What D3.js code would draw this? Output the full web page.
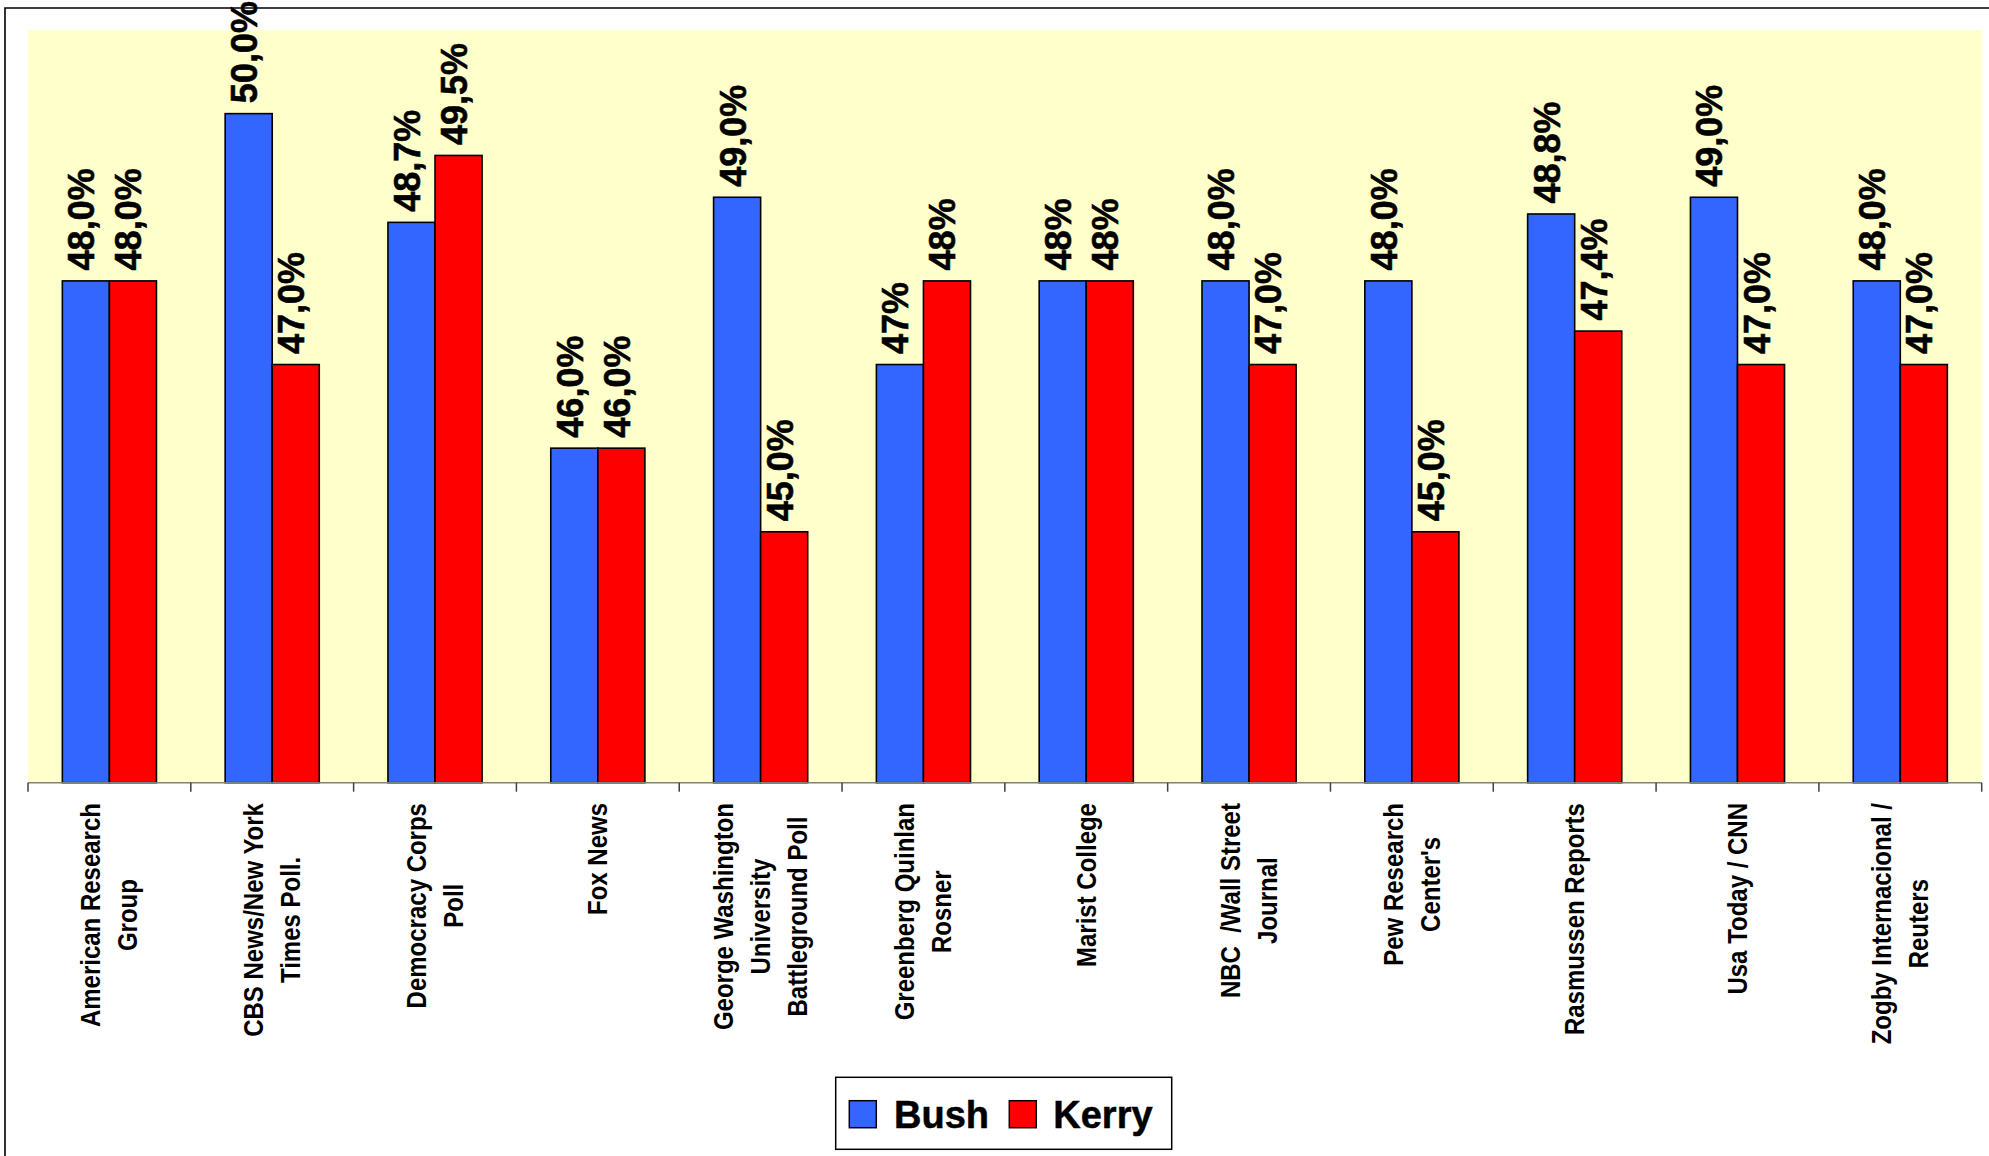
<!DOCTYPE html>
<html>
<head>
<meta charset="utf-8">
<script src="https://cdn.jsdelivr.net/npm/d3@7"></script>
<style>
  html, body { margin: 0; padding: 0; background: #ffffff; }
  svg { display: block; }
  text { font-family: "Liberation Sans", Arial, sans-serif; font-weight: bold; }
</style>
</head>
<body>
<svg id="chart" width="1989" height="1156"></svg>
<script>
const categories = [
  "American Research\nGroup",
  "CBS News/New York\nTimes Poll.",
  "Democracy Corps\nPoll",
  "Fox News",
  "George Washington\nUniversity\nBattleground Poll",
  "Greenberg Quinlan\nRosner",
  "Marist College",
  "NBC  /Wall Street\nJournal",
  "Pew Research\nCenter's",
  "Rasmussen Reports",
  "Usa Today / CNN",
  "Zogby Internacional /\nReuters"
];
const seriesNames = ["Bush", "Kerry"];
const bushValues  = [48.0, 50.0, 48.7, 46.0, 49.0, 47.0, 48.0, 48.0, 48.0, 48.8, 49.0, 48.0];
const kerryValues = [48.0, 47.0, 49.5, 46.0, 45.0, 48.0, 48.0, 47.0, 45.0, 47.4, 47.0, 47.0];
const bushLabels  = ["48,0%", "50,0%", "48,7%", "46,0%", "49,0%", "47%", "48%", "48,0%", "48,0%", "48,8%", "49,0%", "48,0%"];
const kerryLabels = ["48,0%", "47,0%", "49,5%", "46,0%", "45,0%", "48%", "48%", "47,0%", "45,0%", "47,4%", "47,0%", "47,0%"];
const yDomain = [42, 51];

const colors = { Bush: "#3366FF", Kerry: "#FF0000" };

const svg = d3.select("#chart");
const W = 1989, H = 1156;
const plot = { left: 28, right: 1981.7, top: 30, bottom: 782.7 };

svg.append("rect").attr("width", W).attr("height", H).attr("fill", "#ffffff");

// outer chart border (top and left visible)
svg.append("path")
  .attr("d", `M5,${H} V8 H${W}`)
  .attr("fill", "none").attr("stroke", "#000").attr("stroke-width", 1.6);

// plot area
svg.append("rect")
  .attr("x", plot.left).attr("y", plot.top)
  .attr("width", plot.right - plot.left).attr("height", plot.bottom - plot.top)
  .attr("fill", "#FFFFCC");

const x0 = d3.scaleBand().domain(categories).range([plot.left, plot.right]).paddingInner(0).paddingOuter(0);
const x1 = d3.scaleBand().domain(seriesNames).range([0, x0.bandwidth()]).paddingInner(0).paddingOuter(0.73);
const y = d3.scaleLinear().domain(yDomain).range([plot.bottom, plot.top]);

const rows = categories.map((c, i) => ({
  cat: c,
  vals: [
    { s: "Bush", v: bushValues[i], lab: bushLabels[i] },
    { s: "Kerry", v: kerryValues[i], lab: kerryLabels[i] }
  ]
}));

const groups = svg.append("g").selectAll("g").data(rows).join("g")
  .attr("transform", d => `translate(${x0(d.cat)},0)`);

groups.selectAll("rect").data(d => d.vals).join("rect")
  .attr("x", d => x1(d.s))
  .attr("y", d => y(d.v))
  .attr("width", x1.bandwidth())
  .attr("height", d => y(yDomain[0]) - y(d.v))
  .attr("fill", d => colors[d.s])
  .attr("stroke", "#000").attr("stroke-width", 1.6);

// axis line
svg.append("line")
  .attr("x1", plot.left).attr("x2", plot.right)
  .attr("y1", plot.bottom).attr("y2", plot.bottom)
  .attr("stroke", "#808080").attr("stroke-width", 1.5);

// tick marks at category boundaries
const boundaries = categories.map(c => x0(c)).concat([x0(categories[categories.length - 1]) + x0.bandwidth()]);
svg.append("g").selectAll("line").data(boundaries).join("line")
  .attr("x1", d => d).attr("x2", d => d)
  .attr("y1", plot.bottom).attr("y2", plot.bottom + 9)
  .attr("stroke", "#404040").attr("stroke-width", 1.5);

// value labels
groups.selectAll("text.val").data(d => d.vals).join("text")
  .attr("class", "val")
  .attr("transform", d => `translate(${x1(d.s) + x1.bandwidth() / 2},${y(d.v) - 10.5}) rotate(-90)`)
  .attr("dy", 8.5)
  .attr("text-anchor", "start")
  .attr("font-size", 36)
  .attr("fill", "#000")
  .attr("stroke", "#000").attr("stroke-width", 0.6)
  .text(d => d.lab);

// category labels
const labelTop = 803;
const lineGap = 37;
const catG = svg.append("g");
categories.forEach(c => {
  const lines = c.split("\n");
  const cx = x0(c) + x0.bandwidth() / 2;
  const g = catG.append("g");
  const texts = lines.map((ln, i) => g.append("text")
    .attr("font-size", 24)
    .attr("fill", "#000")
    .attr("text-anchor", "middle")
    .attr("xml:space", "preserve")
    .style("white-space", "pre")
    .attr("dy", "0.35em")
    .text(ln));
  const maxLen = d3.max(texts, t => t.node().getComputedTextLength());
  const cy = labelTop + maxLen / 2;
  texts.forEach((t, i) => {
    const off = (i - (lines.length - 1) / 2) * lineGap;
    t.attr("transform", `translate(${cx + off},${cy}) rotate(-90) scale(1,1.12)`);
  });
});

// legend
const leg = svg.append("g");
leg.append("rect")
  .attr("x", 835.7).attr("y", 1077.3).attr("width", 336).attr("height", 72)
  .attr("fill", "#fff").attr("stroke", "#000").attr("stroke-width", 1.5);
const legPos = [{ s: "Bush", sx: 849.3, tx: 894 }, { s: "Kerry", sx: 1009.3, tx: 1053.3 }];
legPos.forEach(p => {
  leg.append("rect")
    .attr("x", p.sx).attr("y", 1100.7).attr("width", 27).attr("height", 27)
    .attr("fill", colors[p.s]).attr("stroke", "#000").attr("stroke-width", 1.5);
  leg.append("text")
    .attr("x", p.tx).attr("y", 1127.7)
    .attr("font-size", 38).attr("fill", "#000")
    .attr("stroke", "#000").attr("stroke-width", 0.5)
    .text(p.s);
});
</script>
</body>
</html>
